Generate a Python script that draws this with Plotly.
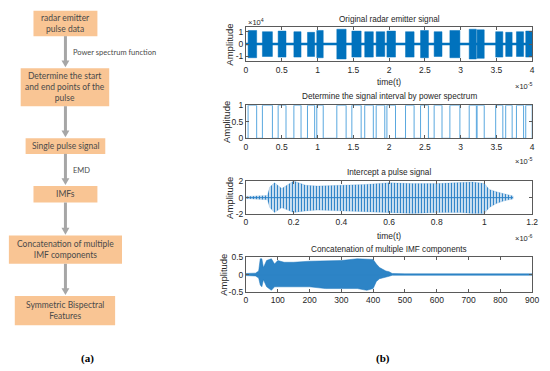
import plotly.graph_objects as go

W, H = 550, 371
def PX(x): return x / W
def PY(y): return 1 - y / H

# ---------------- data ----------------
# Original radar emitter signal: burst intervals (x1e-5 s) and amplitudes (x1e4)
pulse_start = [0.03, 0.23, 0.45, 0.67, 0.86, 0.99, 1.27, 1.48, 1.66, 1.82, 1.97, 2.23, 2.44, 2.63, 2.85, 3.12, 3.23, 3.49, 3.63, 3.78, 3.91]
pulse_end   = [0.15, 0.37, 0.56, 0.77, 0.96, 1.08, 1.40, 1.61, 1.78, 1.94, 2.09, 2.35, 2.55, 2.74, 2.99, 3.22, 3.33, 3.59, 3.72, 3.88, 4.00]
pulse_amp   = [1.10, 1.00, 1.05, 1.00, 0.95, 1.10, 1.20, 1.05, 1.00, 1.00, 1.05, 1.00, 1.10, 1.00, 1.10, 1.20, 1.15, 1.00, 0.95, 1.00, 1.05]
pulse_neg   = [1.10, 1.00, 1.05, 1.05, 1.00, 1.10, 1.20, 1.05, 1.05, 1.00, 1.05, 1.05, 1.10, 1.00, 1.10, 1.20, 1.15, 1.05, 1.00, 1.00, 1.05]

# Intercepted pulse envelope (x1e-6 s)
pulse3_t     = [0.00, 0.05, 0.09, 0.10, 0.12, 0.15, 0.20, 0.25, 0.30, 0.40, 0.50, 0.60, 0.70, 0.80, 0.90, 0.95, 1.00, 1.02, 1.05, 1.08, 1.12]
pulse3_upper = [0.15, 0.20, 0.25, 1.30, 1.80, 1.10, 2.00, 1.50, 1.40, 1.50, 1.60, 1.80, 1.70, 1.70, 1.80, 1.90, 1.70, 1.00, 0.70, 0.45, 0.20]
pulse3_lower = [-0.10, -0.20, -0.25, -1.20, -1.80, -1.20, -1.80, -1.60, -1.50, -1.60, -1.70, -1.80, -1.90, -1.80, -1.80, -1.90, -1.90, -1.20, -0.70, -0.40, -0.15]

# Concatenated IMF envelope (sample index)
imf_n     = [0, 30, 40, 45, 50, 55, 65, 80, 90, 100, 120, 150, 200, 250, 300, 350, 380, 400, 410, 420, 440, 450, 460, 500, 900]
imf_upper = [0.03, 0.04, 0.10, 0.45, 0.45, 0.20, 0.40, 0.45, 0.30, 0.40, 0.35, 0.35, 0.38, 0.38, 0.40, 0.45, 0.45, 0.43, 0.30, 0.20, 0.10, 0.08, 0.03, 0.02, 0.02]
imf_lower = [-0.03, -0.04, -0.10, -0.30, -0.35, -0.15, -0.35, -0.45, -0.35, -0.35, -0.35, -0.35, -0.35, -0.40, -0.40, -0.40, -0.45, -0.40, -0.20, -0.12, -0.08, -0.05, -0.02, -0.02, -0.02]

flow_boxes = ["radar emitter<br>pulse data",
              "Determine the start<br>and end points of the<br>pulse",
              "Single pulse signal",
              "IMFs",
              "Concatenation of multiple<br>IMF components",
              "Symmetric Bispectral<br>Features"]
flow_arrow_labels = ["Power spectrum function", "", "EMD", "", ""]

# ---------------- layout geometry (pixels) ----------------
box_rects = [(32, 97, 6, 32), (19, 109, 65, 104), (24, 105, 137, 153),
             (32, 97, 186, 203), (7, 122, 237, 266), (13, 115, 299, 329)]
ax_x = (248, 539)
ax_y = [(23, 58), (103, 137), (181, 215), (259, 295)]

BLUE = "#0072BD"
fig = go.Figure()

# ---- plot 1: bursts
xs, ys = [], []
for s, e, a, n in zip(pulse_start, pulse_end, pulse_amp, pulse_neg):
    xs += [s, s, e, e, s, None]
    ys += [-n, a, a, -n, -n, None]
fig.add_trace(go.Scatter(x=[0, 4], y=[0, 0], mode="lines", line=dict(color=BLUE, width=2.5),
                         xaxis="x", yaxis="y", hoverinfo="skip"))
fig.add_trace(go.Scatter(x=xs, y=ys, mode="lines", fill="toself", fillcolor=BLUE,
                         line=dict(color=BLUE, width=0.5), xaxis="x", yaxis="y"))

# ---- plot 2: step
sx, sy = [0], [0]
for s, e in zip(pulse_start, pulse_end):
    sx += [s, s, e, e]
    sy += [0, 1, 1, 0]
fig.add_trace(go.Scatter(x=sx, y=sy, mode="lines", line=dict(color="#5AA8DF", width=1),
                         xaxis="x2", yaxis="y2"))

# ---- plot 3: intercepted pulse
fig.add_trace(go.Scatter(x=pulse3_t + pulse3_t[::-1], y=pulse3_upper + pulse3_lower[::-1],
                         mode="lines", fill="toself", fillcolor="rgba(0,0,0,0)",
                         fillpattern=dict(shape="|", size=3, solidity=0.5, fgcolor="#2A80C6",
                                          bgcolor="rgba(255,255,255,0)", fgopacity=1),
                         line=dict(color="rgba(42,128,198,0.35)", width=0.5), xaxis="x3", yaxis="y3"))
fig.add_trace(go.Scatter(x=pulse3_t, y=[0]*len(pulse3_t), mode="lines",
                         line=dict(color="#2A80C6", width=1), xaxis="x3", yaxis="y3"))

# ---- plot 4: IMFs
fig.add_trace(go.Scatter(x=imf_n + imf_n[::-1], y=imf_upper + imf_lower[::-1],
                         mode="lines", fill="toself", fillcolor="#2D84C6",
                         line=dict(color="#1F78BE", width=0.5), xaxis="x4", yaxis="y4"))
fig.add_trace(go.Scatter(x=[0, 900], y=[0, 0], mode="lines", line=dict(color="#2D84C6", width=1),
                         xaxis="x4", yaxis="y4"))

axfont = dict(family="Liberation Sans, Arial", size=8.5, color="#262626")
def xax(rng, anchor, i, tickvals):
    return dict(domain=[PX(ax_x[0]), PX(ax_x[1])], range=rng, anchor=anchor,
                showgrid=False, zeroline=False, showline=True, mirror="ticks", linecolor="#5a5a5a",
                linewidth=1, ticks="inside", ticklen=3, tickcolor="#5a5a5a", tickfont=axfont,
                ticklabeloverflow="allow",
                tickmode="array", tickvals=tickvals, ticktext=[f"{v:g}" for v in tickvals])
def yax(rng, tickvals, anchor, i):
    t, b = ax_y[i]
    return dict(domain=[PY(b), PY(t)], range=rng, anchor=anchor,
                showgrid=False, zeroline=False, showline=True, mirror="ticks", linecolor="#5a5a5a",
                linewidth=1, ticks="inside", ticklen=3, tickcolor="#5a5a5a", tickfont=axfont,
                ticklabeloverflow="allow",
                tickmode="array", tickvals=tickvals, ticktext=[f"{v:g}" for v in tickvals])

x1ticks = [0, 0.5, 1, 1.5, 2, 2.5, 3, 3.5, 4]
fig.update_layout(
    xaxis=xax([0, 4], "y", 0, x1ticks),
    yaxis=yax([-1.4, 1.35], [-1, 0, 1], "x", 0),
    xaxis2=xax([0, 4], "y2", 1, x1ticks),
    yaxis2=yax([0, 1], [0, 0.5, 1], "x2", 1),
    xaxis3=xax([0, 1.2], "y3", 2, [0, 0.2, 0.4, 0.6, 0.8, 1, 1.2]),
    yaxis3=yax([-2, 2], [-2, 0, 2], "x3", 2),
    xaxis4=xax([0, 900], "y4", 3, [0, 100, 200, 300, 400, 500, 600, 700, 800, 900]),
    yaxis4=yax([-0.5, 0.5], [-0.5, 0, 0.5], "x4", 3),
)

ann = []
def text(x, y, s, size=9.5, family="Liberation Sans, Arial", color="#262626", xanchor="center", angle=0):
    ann.append(dict(x=PX(x), y=PY(y), xref="paper", yref="paper", text=s, showarrow=False,
                    xanchor=xanchor, yanchor="middle", textangle=angle,
                    font=dict(size=size, family=family, color=color)))

cx = (ax_x[0] + ax_x[1]) / 2
titles = ["Original radar emitter signal", "Determine the signal interval by power spectrum",
          "Intercept a pulse signal", "Concatenation of multiple IMF components"]
for t, yy in zip(titles, [15, 94, 172, 251]):
    text(cx, yy, t, size=8.2)
text(cx, 79, "time(t)", size=8.5)
text(cx, 237, "time(t)", size=8.5)
text(248, 17, "×10<sup>4</sup>", size=7.5, xanchor="left")
text(541, 83, "×10<sup>-5</sup>", size=7.5, xanchor="right")
text(541, 160, "×10<sup>-5</sup>", size=7.5, xanchor="right")
text(541, 239, "×10<sup>-6</sup>", size=7.5, xanchor="right")
for (t, b), xx in zip(ax_y, [231, 228, 231, 225]):
    text(xx, (t + b) / 2, "Amplitude", size=9.5, angle=-90)

# flowchart
shapes = []
for (x0, x1, y0, y1), lab in zip(box_rects, flow_boxes):
    shapes.append(dict(type="rect", xref="paper", yref="paper", x0=PX(x0), x1=PX(x1), y0=PY(y1), y1=PY(y0),
                       fillcolor="#F9C594", line=dict(width=0), layer="below"))
    text((x0 + x1) / 2, (y0 + y1) / 2, lab, size=8.5, family="Lato, Noto Sans", color="#4a4a4a")
AX = 64.5
for i in range(len(box_rects) - 1):
    y_from = box_rects[i][3]
    y_to = box_rects[i + 1][2] - 1
    head = 7
    shapes.append(dict(type="line", xref="paper", yref="paper", x0=PX(AX), x1=PX(AX),
                       y0=PY(y_from), y1=PY(y_to - head + 1), line=dict(color="#A6A6A6", width=3)))
    shapes.append(dict(type="path", xref="paper", yref="paper",
                       path=f"M {PX(AX-4)} {PY(y_to-head)} L {PX(AX+4)} {PY(y_to-head)} L {PX(AX)} {PY(y_to)} Z",
                       fillcolor="#A6A6A6", line=dict(width=0)))
    if flow_arrow_labels[i]:
        text(70, (y_from + y_to) / 2 + 1, flow_arrow_labels[i], size=7.5, family="Lato, Noto Sans",
             color="#4a4a4a", xanchor="left")

text(87, 363, "<b>(a)</b>", size=11, family="Liberation Serif, Times New Roman", color="#000")
text(387, 363, "<b>(b)</b>", size=11, family="Liberation Serif, Times New Roman", color="#000")

fig.update_layout(width=W, height=H, autosize=False, margin=dict(l=0, r=0, t=0, b=0),
                  paper_bgcolor="white", plot_bgcolor="white", showlegend=False,
                  annotations=ann, shapes=shapes)
fig.write_html("out.html", config={"displayModeBar": False},
               post_script="document.body.style.margin='0';document.body.style.padding='0';")
